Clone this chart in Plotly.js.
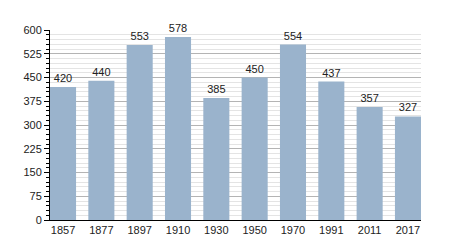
<!DOCTYPE html>
<html>
<head>
<meta charset="utf-8">
<script src="https://cdn.plot.ly/plotly-3.0.1.min.js"></script>
<style>html,body{margin:0;padding:0;background:#fff;}#chart{width:450px;height:250px;}</style>
</head>
<body>
<div id="chart"></div>
<script>
const years = ["1857","1877","1897","1910","1930","1950","1970","1991","2011","2017"];
const population = [420, 440, 553, 578, 385, 450, 554, 437, 357, 327];
const yTicks = [0, 75, 150, 225, 300, 375, 450, 525, 600];

const trace = {
  type: 'bar',
  x: years,
  y: population,
  text: population.map(String),
  textposition: 'outside',
  cliponaxis: false,
  textfont: {family: 'Liberation Sans, Arial, sans-serif', size: 11, color: '#222'},
  marker: {color: '#9ab3cc', line: {width: 0}},
  hoverinfo: 'none'
};

const layout = {
  width: 450, height: 250,
  margin: {l: 50, r: 29, t: 30, b: 30, pad: 0},
  paper_bgcolor: '#fff', plot_bgcolor: '#fff',
  bargap: 0.32,
  showlegend: false,
  font: {family: 'Liberation Sans, Arial, sans-serif', size: 11, color: '#222'},
  xaxis: {
    type: 'category',
    range: [-0.34, 9.34],
    showline: true, linecolor: '#000', linewidth: 1,
    ticks: '', showgrid: false, zeroline: false,
    tickfont: {size: 11, color: '#222'}
  },
  yaxis: {
    range: [0, 600],
    tickmode: 'array', tickvals: yTicks, ticktext: yTicks.map(String),
    showline: true, linecolor: '#000', linewidth: 1,
    ticks: 'outside', ticklen: 5, tickcolor: '#000', tickwidth: 1,
    showgrid: true, gridcolor: '#b4b4b4', gridwidth: 1,
    zeroline: false,
    tickfont: {size: 11, color: '#222'},
    minor: {dtick: 15, tick0: 0, showgrid: true, gridcolor: '#e4e4e4', gridwidth: 1,
            ticks: 'outside', ticklen: 3, tickcolor: '#000'}
  }
};

Plotly.newPlot('chart', [trace], layout, {staticPlot: true, displayModeBar: false});
</script>
</body>
</html>
